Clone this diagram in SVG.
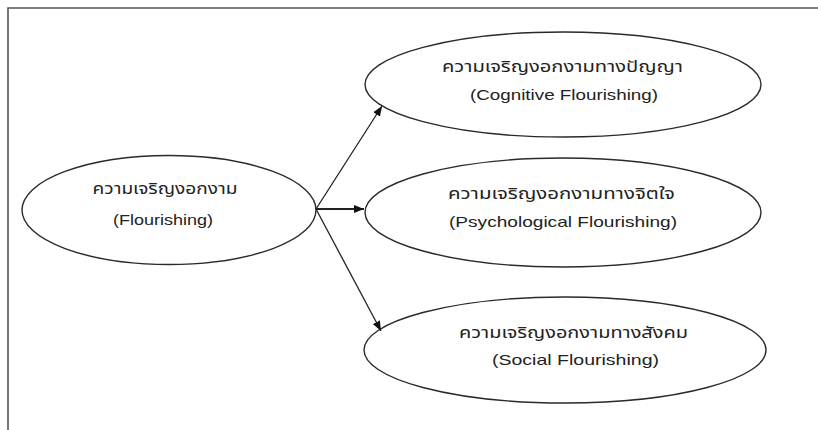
<svg xmlns="http://www.w3.org/2000/svg" width="818" height="430" viewBox="0 0 818 430">
<defs>
<style>
.node ellipse{fill:#fff;stroke:#2a2a2a;stroke-width:1.4}
.node text{font-family:"Liberation Sans","Noto Sans Thai","Noto Sans",sans-serif;font-size:15px;fill:#222;text-anchor:middle}
.conn line{stroke:#222;stroke-width:1.3}
.frame{stroke:#555;stroke-width:1.6;fill:none}
</style>
<marker id="ah" viewBox="0 0 10 10" refX="10" refY="5" markerWidth="10" markerHeight="10" markerUnits="userSpaceOnUse" orient="auto">
<path d="M0,1 L10,5 L0,9 Z" fill="#111"/>
</marker>
</defs>
<rect width="818" height="430" fill="#fff"/>
<path class="frame" d="M8,430 V8 H818"/>
<g id="n-flourishing" class="node">
<ellipse cx="169" cy="210" rx="147" ry="54.5"/>
<text x="165" y="194" textLength="145" lengthAdjust="spacingAndGlyphs">ความเจริญงอกงาม</text>
<text x="163" y="225" textLength="100" lengthAdjust="spacingAndGlyphs">(Flourishing)</text>
</g>
<g id="n-cognitive" class="node">
<ellipse cx="563" cy="84.5" rx="198" ry="52.5"/>
<text x="562.5" y="72" textLength="241" lengthAdjust="spacingAndGlyphs">ความเจริญงอกงามทางปัญญา</text>
<text x="564" y="100" textLength="188" lengthAdjust="spacingAndGlyphs">(Cognitive Flourishing)</text>
</g>
<g id="n-psychological" class="node">
<ellipse cx="563" cy="212.5" rx="198" ry="54.5"/>
<text x="561.5" y="199" textLength="227" lengthAdjust="spacingAndGlyphs">ความเจริญงอกงามทางจิตใจ</text>
<text x="563" y="227" textLength="228" lengthAdjust="spacingAndGlyphs">(Psychological Flourishing)</text>
</g>
<g id="n-social" class="node">
<ellipse cx="565" cy="350" rx="201" ry="53"/>
<text x="573.5" y="338" textLength="229" lengthAdjust="spacingAndGlyphs">ความเจริญงอกงามทางสังคม</text>
<text x="575.5" y="365" textLength="167" lengthAdjust="spacingAndGlyphs">(Social Flourishing)</text>
</g>
<g id="connectors" class="conn">
<line x1="316" y1="209" x2="382" y2="106" marker-end="url(#ah)"/>
<line x1="316" y1="209" x2="364" y2="209" marker-end="url(#ah)" style="stroke-width:2.2"/>
<line x1="316" y1="209" x2="381" y2="331" marker-end="url(#ah)"/>
</g>
</svg>
